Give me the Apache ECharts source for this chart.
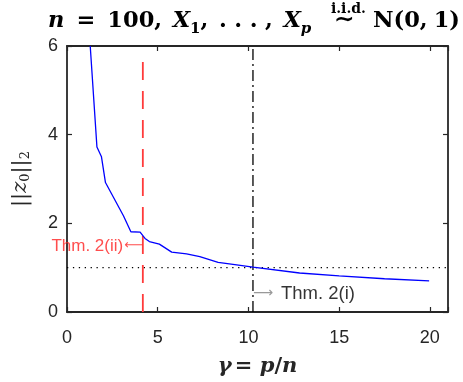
<!DOCTYPE html>
<html>
<head>
<meta charset="utf-8">
<script src="https://cdn.jsdelivr.net/npm/echarts@6/dist/echarts.min.js"></script>
<style>
  html, body { margin: 0; padding: 0; background: #fff; }
  #chart { width: 463px; height: 382px; }
</style>
</head>
<body>
<div id="chart"></div>
<script>
// ratio gamma = p/n and the measured norm ||z0||_2
const gamma = [1.28, 1.65, 1.90, 2.12, 3.11, 3.52, 4.03, 4.30, 4.54, 5.09, 5.77, 6.59, 7.32, 8.33, 9.25, 10.25, 12.82, 15.0, 17.5, 19.96];
const zNorm = [6.0, 3.72, 3.50, 2.92, 2.17, 1.81, 1.80, 1.66, 1.59, 1.53, 1.35, 1.31, 1.25, 1.12, 1.07, 1.01, 0.88, 0.815, 0.75, 0.70];

// theorem thresholds
const thm2ii = 4.18;
const thm2iiTop = 5.8;
const thm2i = 10.25;
const refLevel = 1;

const xTicks = [0, 5, 10, 15, 20];
const yTicks = [0, 2, 4, 6];

const axisColor = '#262626';
const serif = '"DejaVu Serif", "Liberation Serif", serif';
const sans = '"Liberation Sans", Arial, Helvetica, sans-serif';

const chart = echarts.init(document.getElementById('chart'), null, { renderer: 'canvas' });

// title: math-style pieces laid out by measured widths, gaps stretched to fill the span
const ctx = document.createElement('canvas').getContext('2d');
function width(text, font) { ctx.font = font; return ctx.measureText(text).width; }
const TS = 22.5;
const fBI = 'italic bold ' + TS + 'px ' + serif;
const fB = 'bold ' + TS + 'px ' + serif;
const fSubI = 'italic bold 15px ' + serif;
const fSub = 'bold 15px ' + serif;
const fSim = 'bold 25px ' + serif;
const fOver = 'bold 14px ' + serif;
// gap: relative amount of space inserted before the piece
const titlePieces = [
  { t: 'n', f: fBI, dy: 0, gap: 0 },
  { t: '=', f: fB, dy: 0, gap: 0.8 },
  { t: '100,', f: fB, dy: 0, gap: 0.8 },
  { t: 'X', f: fBI, dy: 0, gap: 0.7 },
  { t: '1', f: fSub, dy: 4, gap: 0 },
  { t: ',', f: fB, dy: 0, gap: 0 },
  { t: '.', f: fB, dy: 0, gap: 0.7 },
  { t: '.', f: fB, dy: 0, gap: 0.5 },
  { t: '.', f: fB, dy: 0, gap: 0.5 },
  { t: ',', f: fB, dy: 0, gap: 0.5 },
  { t: 'X', f: fBI, dy: 0, gap: 0.7 },
  { t: 'p', f: fSubI, dy: 4, gap: 0 },
  { t: '∼', f: fSim, dy: 0, gap: 1.5, over: 'i.i.d.' },
  { t: 'N(0,', f: fB, dy: 0, gap: 1.2 },
  { t: '1)', f: fB, dy: 0, gap: 0.4 }
];
const titleLeft = 48, titleRight = 460;
const titleBase = 33;
const natural = titlePieces.reduce((s, p) => s + width(p.t, p.f), 0);
const gapUnits = titlePieces.reduce((s, p) => s + p.gap, 0);
const unit = Math.max(1, (titleRight - titleLeft - natural) / gapUnits);
let tx = titleLeft;
const titleEls = [];
titlePieces.forEach(p => {
  tx += p.gap * unit;
  const w = width(p.t, p.f);
  titleEls.push({
    type: 'text', x: tx, y: titleBase + p.dy,
    style: { text: p.t, font: p.f, fill: '#000', textAlign: 'left', textVerticalAlign: 'bottom' }
  });
  if (p.over) {
    titleEls.push({
      type: 'text', x: tx + w / 2 + 4, y: titleBase - 17,
      style: { text: p.over, font: fOver, fill: '#000', textAlign: 'center', textVerticalAlign: 'bottom' }
    });
  }
  tx += w;
});

const subStyle = { fontFamily: serif, fontSize: 13, padding: [10, 0, 0, 0], color: axisColor };

const boxAxis = {
  axisLine: { show: true, onZero: false, lineStyle: { color: axisColor, width: 1.8 } },
  axisTick: { show: true, inside: true, length: 5, lineStyle: { color: axisColor, width: 1.2 } },
  splitLine: { show: false }
};

chart.setOption({
  animation: false,
  backgroundColor: '#fff',
  grid: { left: 67, right: 15, top: 46, bottom: 69, containLabel: false },
  graphic: titleEls,
  xAxis: [
    Object.assign({
      type: 'value', min: 0, max: 21, interval: 5, position: 'bottom',
      axisLabel: {
        margin: 17, fontFamily: sans, fontSize: 18, color: axisColor,
        formatter: v => (xTicks.indexOf(v) >= 0 ? String(v) : '')
      },
      name: '{g|γ} {o|= }{g|p}{o|/}{g|n}',
      nameLocation: 'middle', nameGap: 44,
      nameTextStyle: {
        rich: {
          g: { fontFamily: serif, fontStyle: 'italic', fontWeight: 'bold', fontSize: 21, color: axisColor },
          o: { fontFamily: serif, fontWeight: 'bold', fontSize: 21, color: axisColor }
        }
      }
    }, boxAxis),
    Object.assign({
      type: 'value', min: 0, max: 21, interval: 5, position: 'top',
      axisLabel: { show: false }
    }, boxAxis)
  ],
  yAxis: [
    Object.assign({
      type: 'value', min: 0, max: 6, interval: 2, position: 'left',
      axisLabel: {
        margin: 9, fontFamily: sans, fontSize: 18, color: axisColor,
        formatter: v => (yTicks.indexOf(v) >= 0 ? String(v) : '')
      },
      name: '{n|||}{z|z}{s|0}{n|||}{s|2}',
      nameLocation: 'middle', nameGap: 35, nameRotate: 90,
      nameTextStyle: {
        rich: {
          n: { fontFamily: serif, fontSize: 21, color: axisColor },
          z: { fontFamily: serif, fontStyle: 'italic', fontSize: 21, color: axisColor },
          s: subStyle
        }
      }
    }, boxAxis),
    Object.assign({
      type: 'value', min: 0, max: 6, interval: 2, position: 'right',
      axisLabel: { show: false }
    }, boxAxis)
  ],
  series: [
    {
      name: 'reference level',
      type: 'line', xAxisIndex: 0, yAxisIndex: 0,
      data: [[0, refLevel], [21, refLevel]],
      symbol: 'none', silent: true, z: 2,
      lineStyle: { color: '#000', width: 1.3, type: [1.3, 4.6] }
    },
    {
      name: 'Thm. 2(ii)',
      type: 'line', xAxisIndex: 0, yAxisIndex: 0,
      data: [[thm2ii, 0], [thm2ii, thm2iiTop]],
      symbol: 'none', silent: true, z: 3,
      lineStyle: { color: '#ff3b3b', width: 1.8, type: [18, 11] }
    },
    {
      name: 'Thm. 2(i)',
      type: 'line', xAxisIndex: 0, yAxisIndex: 0,
      data: [[thm2i, 0], [thm2i, 6]],
      symbol: 'none', silent: true, z: 3,
      lineStyle: { color: '#000', width: 1.3, type: [11, 4, 2, 4] }
    },
    {
      name: 'z0 norm',
      type: 'line', xAxisIndex: 0, yAxisIndex: 0,
      data: gamma.map((g, i) => [g, zNorm[i]]),
      symbol: 'none', clip: true, z: 4,
      lineStyle: { color: '#0000ff', width: 1.3 }
    },
    {
      name: 'labels',
      type: 'scatter', xAxisIndex: 0, yAxisIndex: 0,
      symbolSize: 0, silent: true, z: 5,
      data: [
        {
          value: [thm2ii, 1.49],
          label: {
            show: true, position: 'left', distance: 0,
            formatter: '{t|Thm. 2(ii)}{a|⟵}',
            rich: {
              t: { fontFamily: sans, fontSize: 17, color: '#ff2020' },
              a: { fontFamily: '"DejaVu Sans", sans-serif', fontSize: 13, color: '#ff2020', padding: [0, 0, 0, 1] }
            }
          }
        },
        {
          value: [thm2i, 0.41],
          label: {
            show: true, position: 'right', distance: 0,
            formatter: '{a|⟶}{t|Thm. 2(i)}',
            rich: {
              t: { fontFamily: sans, fontSize: 18.5, color: '#000', padding: [0, 0, 0, 8] },
              a: { fontFamily: '"DejaVu Sans", sans-serif', fontSize: 14, color: '#808080' }
            }
          }
        }
      ]
    }
  ]
});
</script>
</body>
</html>
